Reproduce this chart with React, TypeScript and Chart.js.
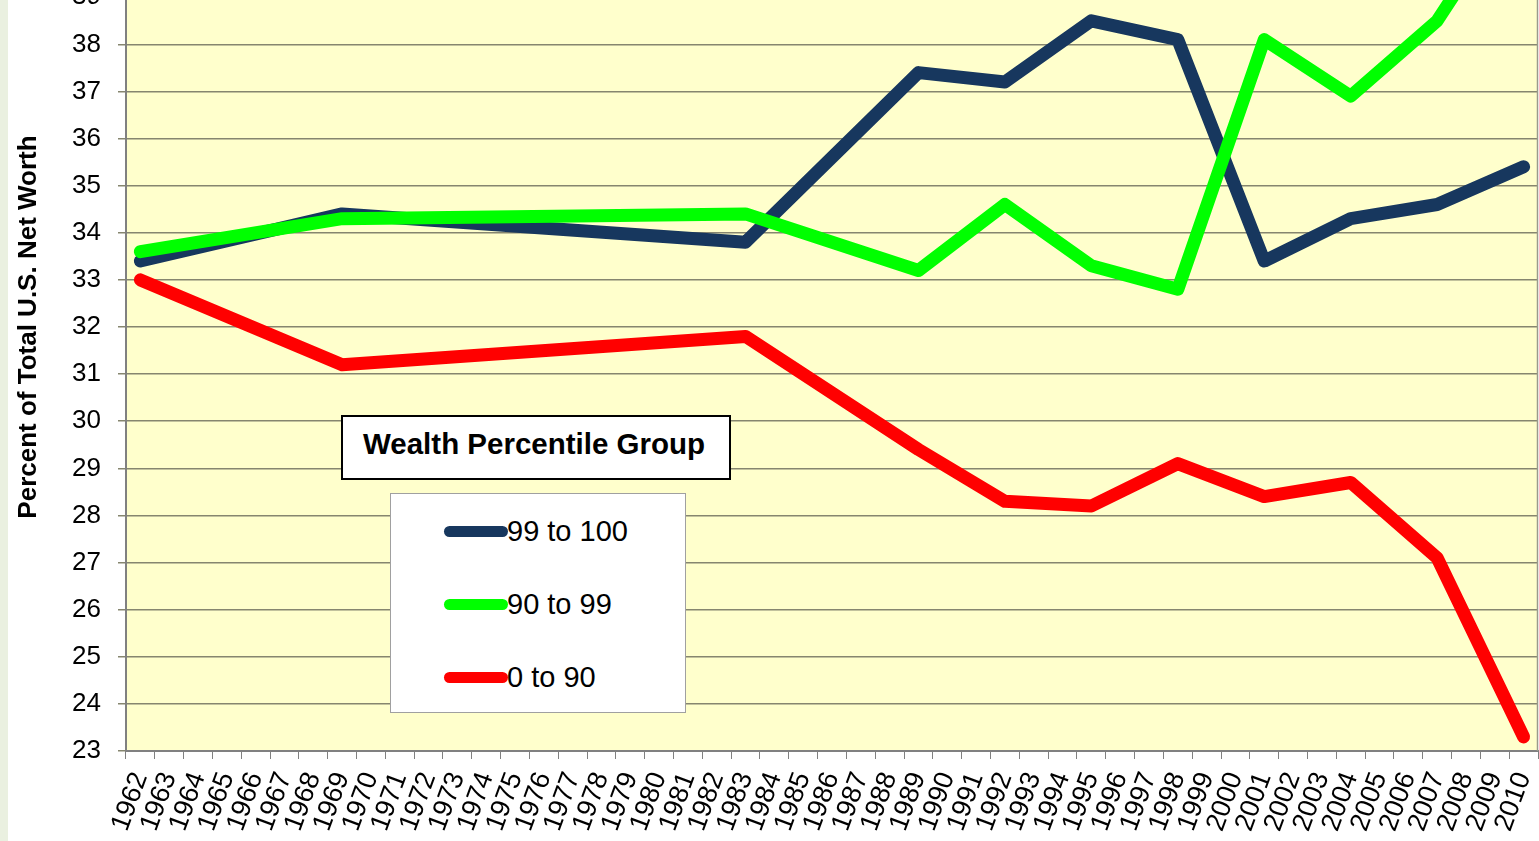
import React, { useEffect, useRef } from 'react';
import { Chart, registerables } from 'chart.js';

Chart.register(...registerables);

// ---- data ----
const yearLabels = [
  '1962', '1963', '1964', '1965', '1966', '1967', '1968', '1969', '1970', '1971',
  '1972', '1973', '1974', '1975', '1976', '1977', '1978', '1979', '1980', '1981',
  '1982', '1983', '1984', '1985', '1986', '1987', '1988', '1989', '1990', '1991',
  '1992', '1993', '1994', '1995', '1996', '1997', '1998', '1999', '2000', '2001',
  '2002', '2003', '2004', '2005', '2006', '2007', '2008', '2009', '2010',
];
const surveyYears = ['1962', '1969', '1983', '1989', '1992', '1995', '1998', '2001', '2004', '2007', '2010'];
const top1 = [33.4, 34.4, 33.8, 37.4, 37.2, 38.5, 38.1, 33.4, 34.3, 34.6, 35.4];
const next9 = [33.6, 34.3, 34.4, 33.2, 34.6, 33.3, 32.8, 38.1, 36.9, 38.5, 41.3];
const bottom90 = [33.0, 31.2, 31.8, 29.4, 28.3, 28.2, 29.1, 28.4, 28.7, 27.1, 23.3];
const seriesNames = ['99 to 100', '90 to 99', '0 to 90'];
const seriesColors = ['#17375E', '#00FF00', '#FF0000'];
const yMin = 23;
const yMax = 41;
const yTitle = 'Percent of Total U.S. Net Worth';
const legendTitle = 'Wealth Percentile Group';

const OFFSET = 130;
const FONT = 'Arial, "Liberation Sans", sans-serif';

function toSeries(values: number[]) {
  return yearLabels.map((y) => {
    const i = surveyYears.indexOf(y);
    return i >= 0 ? values[i] : null;
  });
}

const plotBg = {
  id: 'plotBg',
  beforeDraw(chart: any) {
    const { ctx, chartArea } = chart;
    ctx.save();
    ctx.fillStyle = '#FFFFCC';
    ctx.fillRect(chartArea.left, chartArea.top, chartArea.right - chartArea.left, chartArea.bottom - chartArea.top);
    ctx.restore();
  },
  afterDraw(chart: any) {
    const { ctx, chartArea } = chart;
    ctx.save();
    ctx.strokeStyle = '#9a9a8a';
    ctx.lineWidth = 1.5;
    ctx.beginPath();
    ctx.moveTo(chartArea.right - 0.5, chartArea.top);
    ctx.lineTo(chartArea.right - 0.5, chartArea.bottom);
    ctx.stroke();
    ctx.restore();
  },
};

export default function App() {
  const ref = useRef<HTMLCanvasElement | null>(null);

  useEffect(() => {
    if (!ref.current) return;
    const all = [top1, next9, bottom90];
    const orders = [3, 2, 1];
    const chart = new Chart(ref.current, {
      type: 'line',
      data: {
        labels: yearLabels,
        datasets: all.map((vals, i) => ({
          label: seriesNames[i],
          data: toSeries(vals),
          borderColor: seriesColors[i],
          backgroundColor: seriesColors[i],
          borderWidth: 13,
          borderCapStyle: 'round',
          borderJoinStyle: 'round',
          pointRadius: 0,
          spanGaps: true,
          tension: 0,
          order: orders[i],
        })) as any,
      },
      options: {
        animation: false,
        responsive: true,
        maintainAspectRatio: false,
        layout: { padding: { top: 33, left: 0, right: 1, bottom: 0 } },
        plugins: { legend: { display: false }, tooltip: { enabled: false } },
        scales: {
          x: {
            type: 'category',
            offset: true,
            grid: { offset: true, drawOnChartArea: false, drawTicks: true, tickLength: 8, color: '#808080', lineWidth: 1 },
            border: { color: '#808080', width: 2 },
            ticks: {
              autoSkip: false,
              maxRotation: 70,
              minRotation: 70,
              color: '#000',
              padding: 9,
              font: { family: FONT, size: 27 },
            },
            afterFit: (s: any) => {
              s.height = 90;
              s.paddingLeft = 0;
              s.paddingRight = 0;
            },
          },
          y: {
            min: yMin,
            max: yMax,
            grid: { color: '#86866f', lineWidth: 1.5, tickLength: 8, drawTicks: true },
            border: { color: '#808080', width: 2 },
            ticks: {
              stepSize: 1,
              color: '#000',
              padding: 17,
              font: { family: FONT, size: 26 },
            },
            title: {
              display: true,
              text: yTitle,
              color: '#000',
              font: { family: FONT, size: 26, weight: 'bold' },
              padding: { top: 13, bottom: 0 },
            },
            afterFit: (s: any) => { s.width = 126; },
          },
        },
      },
      plugins: [plotBg],
    });
    return () => chart.destroy();
  }, []);

  return (
    <div style={{ position: 'absolute', left: 0, top: 0, width: 1539, height: 841, overflow: 'hidden', background: '#fff' }}>
      <div style={{ position: 'absolute', left: 0, top: 0, width: 8, height: 841, background: '#EAF0E0' }} />
      <div style={{ position: 'absolute', left: 0, top: -OFFSET, width: 1539, height: 841 + OFFSET }}>
        <canvas ref={ref} />
      </div>
      <div
        style={{
          position: 'absolute', left: 341, top: 415, width: 390, height: 65, boxSizing: 'border-box',
          border: '2px solid #000', background: '#fff', display: 'flex', alignItems: 'center',
          paddingLeft: 20, paddingBottom: 7,
          fontFamily: FONT, fontWeight: 'bold', fontSize: 29.5, color: '#000', whiteSpace: 'nowrap',
        }}
      >
        {legendTitle}
      </div>
      <div
        style={{
          position: 'absolute', left: 390, top: 493, width: 296, height: 220, boxSizing: 'border-box',
          border: '1px solid #a0a0a0', background: '#fff',
        }}
      >
        {seriesNames.map((name, i) => (
          <div key={name} style={{ position: 'absolute', left: 0, top: 37 + i * 73 - 20, height: 40, display: 'flex', alignItems: 'center' }}>
            <div style={{ marginLeft: 53, width: 64, height: 11, borderRadius: 6, background: seriesColors[i] }} />
            <span style={{ fontFamily: FONT, fontSize: 29, color: '#000', marginLeft: -1, whiteSpace: 'nowrap' }}>{name}</span>
          </div>
        ))}
      </div>
    </div>
  );
}
